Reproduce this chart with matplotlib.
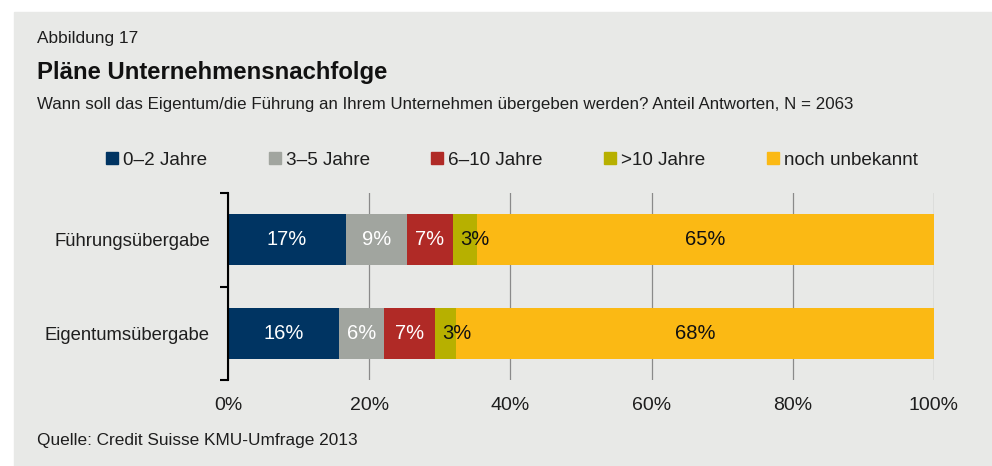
import matplotlib
matplotlib.use("Agg")
import matplotlib.pyplot as plt
from matplotlib.lines import Line2D
from matplotlib.patches import Rectangle

plt.rcParams["font.family"] = ["Liberation Sans", "DejaVu Sans"]

categories = ["Führungsübergabe", "Eigentumsübergabe"]
series     = ["0–2 Jahre", "3–5 Jahre", "6–10 Jahre", ">10 Jahre", "noch unbekannt"]
colors     = ["#003462", "#a1a59f", "#b02a26", "#b7b000", "#fbb914"]
txt_colors = ["white", "white", "white", "#111111", "#111111"]

# segment widths (percent)
fuehrung   = [16.7, 8.6, 6.6, 3.3, 64.9]
eigentum   = [15.7, 6.4, 7.2, 3.0, 67.7]
# labels printed on the bars
fuehrung_lbl = [17, 9, 7, 3, 65]
eigentum_lbl = [16, 6, 7, 3, 68]

xticks = [0, 20, 40, 60, 80, 100]

BG = "#e8e9e7"
TXT = "#1e1e1e"

fig = plt.figure(figsize=(9.92, 4.66), dpi=100)
fig.patches.append(Rectangle((14 / 992, 0), 1, 1 - 12 / 466,
                             transform=fig.transFigure, color=BG, zorder=-10))

ax = fig.add_axes([228 / 992, 1 - 380 / 466, 706 / 992, 187 / 466])
ax.set_facecolor("none")

rows   = [fuehrung, eigentum]
labels = [fuehrung_lbl, eigentum_lbl]
for i, (vals, lbls) in enumerate(zip(rows, labels)):
    left = 0
    for j, (v, l) in enumerate(zip(vals, lbls)):
        ax.barh(i, v, left=left, height=0.545, color=colors[j], zorder=3)
        if j == 3:
            ax.text(left + 1.0, i, f"{l}%", ha="left", va="center",
                    color=txt_colors[j], fontsize=14.5, zorder=4)
        else:
            ax.text(left + v / 2, i, f"{l}%", ha="center", va="center",
                    color=txt_colors[j], fontsize=14.5, zorder=4)
        left += v

ax.set_xlim(0, 100)
ax.set_ylim(1.5, -0.5)
ax.set_xticks(xticks)
ax.set_xticklabels([f"{t}%" for t in xticks], fontsize=14, color=TXT)
ax.tick_params(axis="x", length=0, pad=12)
ax.set_yticks([0, 1])
ax.set_yticklabels(categories, fontsize=13.3, color=TXT)
ax.tick_params(axis="y", which="major", length=0, pad=13)
ax.set_yticks([-0.5, 0.5, 1.5], minor=True)
ax.tick_params(axis="y", which="minor", length=6, width=1.5, color="black")
ax.grid(axis="x", color="#8a8a8a", linewidth=0.9, zorder=1)
for s in ["top", "right", "bottom"]:
    ax.spines[s].set_visible(False)
ax.spines["left"].set_linewidth(1.5)
ax.spines["left"].set_zorder(5)

handles = [Line2D([], [], marker="s", linestyle="none", markersize=8,
                  markerfacecolor=c, markeredgecolor=c) for c in colors]
fig.legend(handles, series, loc="center left", bbox_to_anchor=(106 / 992, 1 - 160 / 466),
           ncol=5, frameon=False, fontsize=13.6, handlelength=0.65, handletextpad=0.25,
           columnspacing=3.25, borderpad=0, borderaxespad=0, labelcolor=TXT)

fig.text(37 / 992, 1 - 38 / 466, "Abbildung 17", fontsize=12.4, va="center", color=TXT)
fig.text(37 / 992, 1 - 72 / 466, "Pläne Unternehmensnachfolge", fontsize=17.2,
         fontweight="bold", va="center", color="#111111")
fig.text(37 / 992, 1 - 104 / 466,
         "Wann soll das Eigentum/die Führung an Ihrem Unternehmen übergeben werden? Anteil Antworten, N = 2063",
         fontsize=12.2, va="center", color=TXT)
fig.text(37 / 992, 1 - 441 / 466, "Quelle: Credit Suisse KMU-Umfrage 2013",
         fontsize=12.4, va="center", color=TXT)

fig.savefig("out.png", dpi=100, facecolor="white")
